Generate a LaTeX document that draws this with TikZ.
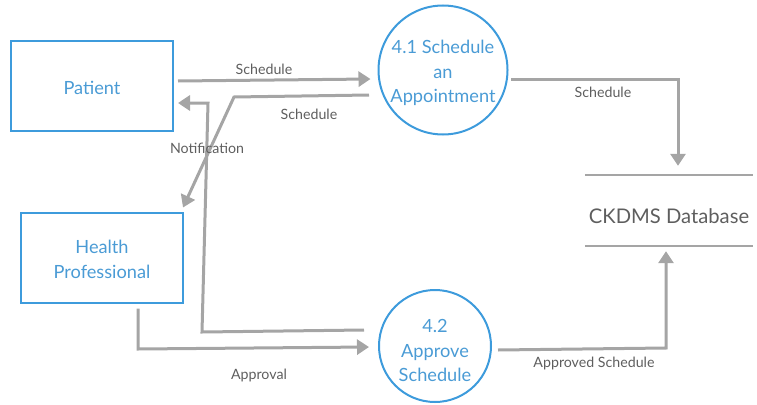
\documentclass[tikz,border=0pt]{standalone}
\usepackage{fontspec}
\setmainfont{Lato}
\usetikzlibrary{arrows.meta,positioning}
\definecolor{bblue}{HTML}{3D9BDC}
\definecolor{tblue}{HTML}{4A9BD5}
\definecolor{agray}{HTML}{A5A5A5}
\definecolor{lgray}{HTML}{5E5E5E}
\tikzset{
  entity/.style={draw=bblue, line width=2pt, minimum width=162pt, minimum height=90pt, inner sep=0pt},
  process/.style={draw=bblue, line width=2pt, circle, inner sep=0pt},
  ptext/.style={text=tblue, align=center, font=\fontsize{18.2}{24.5}\selectfont, inner sep=0pt},
  flow/.style={draw=agray, line width=3pt, -{Triangle[length=12pt,width=15pt]}},
  flowlabel/.style={text=lgray, font=\fontsize{14.2}{16}\selectfont, inner sep=0pt},
}
\begin{document}
\begin{tikzpicture}[x=1pt,y=-1pt]
\useasboundingbox (0,0) rectangle (757,404);
\node[entity] (patient) at (92,86) {};
\node[ptext] (patientt) at (92,87.5) {Patient};
\node[entity] (hp) at (102,257.5) {};
\node[ptext] (hpt) at (102,259.5) {Health\\Professional};
\node[process, minimum size=129pt] (c1) at (443,70) {};
\node[ptext] (c1t) at (443,73) {4.1 Schedule\\an\\Appointment};
\node[process, minimum size=112pt] (c2) at (435,346) {};
\node[ptext] (c2t) at (435,350.5) {4.2\\Approve\\Schedule};
\node[minimum width=168pt, minimum height=71pt, inner sep=0pt] (db) at (669,210.5) {};
\node[text=lgray, font=\fontsize{20.2}{22}\selectfont, inner sep=0pt] (dbt) at (669,216) {CKDMS Database};
\draw[draw=agray, line width=1.5pt] (db.north west) -- (db.north east);
\draw[draw=agray, line width=1.5pt] (db.south west) -- (db.south east);

% Schedule: patient -> 4.1
\draw[flow] ([xshift=4pt,yshift=5pt]patient.east) -- ([xshift=-7pt,yshift=-9pt]c1.west);
% Schedule: 4.1 -> health professional
\coordinate (k1) at (234,97);
\draw[flow] ([xshift=-8.5pt,yshift=-25pt]c1.west) -- (k1) -- ([xshift=-1pt,yshift=4pt]hp.north east);
% Notification: 4.2 -> patient
\coordinate (k2) at (202,332);
\coordinate (k3) at (208,103);
\draw[flow] ([xshift=-14pt,yshift=16pt]c2.west) -- (k2) -- (k3) -- ([xshift=4pt,yshift=-17pt]patient.east);
% Approval: HP -> 4.2
\coordinate (k4) at (138,349);
\draw[flow] ([xshift=36pt,yshift=-5pt]hp.south) -- (k4) -- ([xshift=-9pt,yshift=-1pt]c2.west);
% Schedule: 4.1 -> DB
\coordinate (k5) at (678,79);
\draw[flow] ([xshift=2.5pt,yshift=-9pt]c1.east) -- (k5) -- ([xshift=9pt,yshift=9pt]db.north);
% Approved schedule: 4.2 -> DB
\coordinate (k6) at (666,348);
\draw[flow] ([xshift=6pt,yshift=-4pt]c2.east) -- (k6) -- ([xshift=-3pt,yshift=-5pt]db.south);

\node[flowlabel] (l1) at (264,69) {Schedule};
\node[flowlabel] (l2) at (309,114) {Schedule};
\node[flowlabel] (l3) at (207,148) {Notification};
\node[flowlabel] (l4) at (259,375) {Approval};
\node[flowlabel] (l5) at (603,92) {Schedule};
\node[flowlabel] (l6) at (594,363) {Approved Schedule};
\end{tikzpicture}
\end{document}
